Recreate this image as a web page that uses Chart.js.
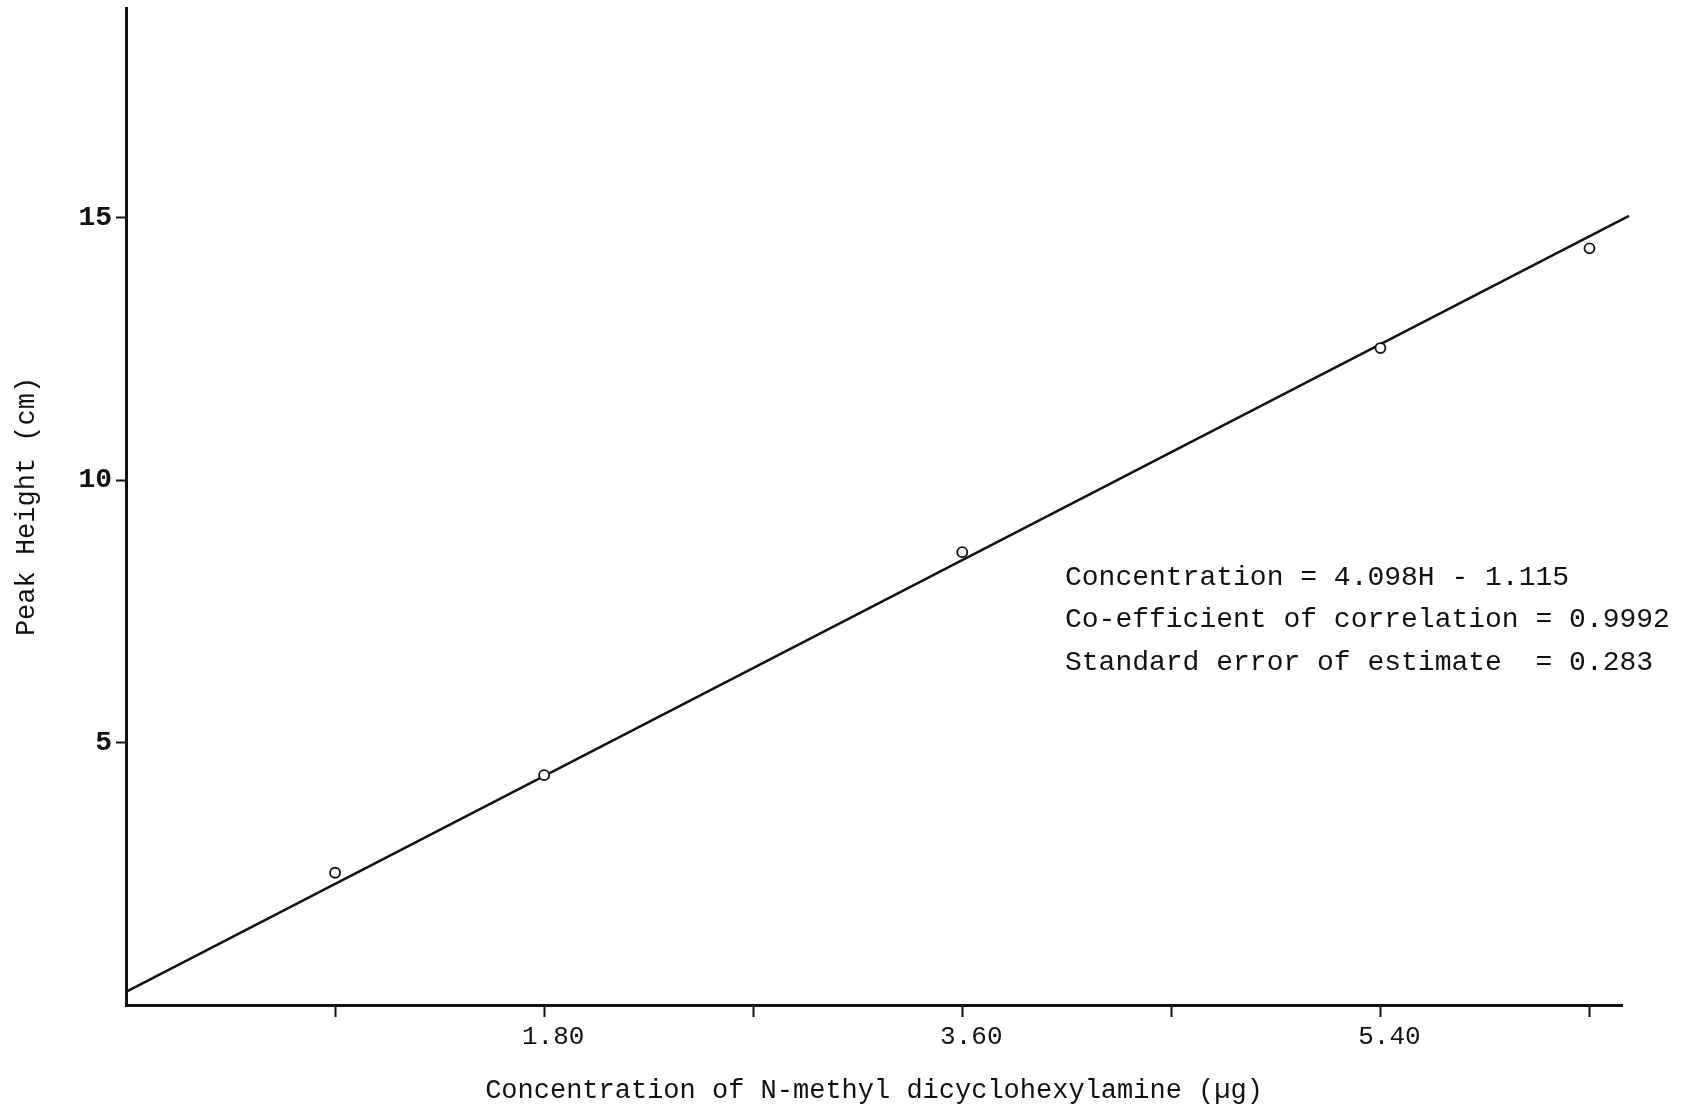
<!DOCTYPE html>
<html><head><meta charset="utf-8">
<script src="https://cdn.jsdelivr.net/npm/chart.js@4/dist/chart.umd.min.js"></script>
<style>html,body{margin:0;padding:0;background:#fff;}#wrap{width:1700px;height:1108px;}</style>
</head><body><div id="wrap"><canvas id="c" width="1700" height="1108"></canvas></div>
<script>
const concentrations = [0.9, 1.8, 3.6, 5.4, 6.3];
const peakHeights = [2.52, 4.38, 8.63, 12.52, 14.42];
const fitLineX = [0, 6.47];
const fitLineY = [0.25, 15.04];
const xTickValues = [0.9, 1.8, 2.7, 3.6, 4.5, 5.4, 6.3];
const xTickLabels = ['', '1.80', '', '3.60', '', '5.40', ''];
const yTickValues = [5, 10, 15];
const yTickLabels = ['5', '10', '15'];
const annotationLines = [
  'Concentration = 4.098H - 1.115',
  'Co-efficient of correlation = 0.9992',
  'Standard error of estimate  = 0.283'
];
const xTitle = 'Concentration of N-methyl dicyclohexylamine (\u00b5g)';
const yTitle = 'Peak Height (cm)';

const annotationPlugin = {
  id: 'annot',
  afterDraw(chart) {
    const ctx = chart.ctx;
    ctx.save();
    ctx.font = '28px "Liberation Mono"';
    ctx.fillStyle = '#111';
    ctx.textBaseline = 'middle';
    ctx.textAlign = 'left';
    const ys = [578, 620, 663];
    annotationLines.forEach((t, i) => ctx.fillText(t, 1065, ys[i]));
    ctx.restore();
  }
};

new Chart(document.getElementById('c'), {
  type: 'scatter',
  data: {
    datasets: [
      {
        label: 'Measured',
        data: concentrations.map((x, i) => ({x, y: peakHeights[i]})),
        pointStyle: 'circle',
        pointRadius: 5,
        pointBorderWidth: 1.8,
        pointBorderColor: '#111',
        pointBackgroundColor: '#fff',
        showLine: false
      },
      {
        label: 'Fit',
        data: fitLineX.map((x, i) => ({x, y: fitLineY[i]})),
        showLine: true,
        borderColor: '#111',
        borderWidth: 2.5,
        pointRadius: 0,
        clip: false
      }
    ]
  },
  options: {
    responsive: false,
    animation: false,
    layout: {padding: {top: 8, right: 78, left: 0, bottom: 0}},
    plugins: {legend: {display: false}, tooltip: {enabled: false}},
    scales: {
      x: {
        type: 'linear', min: 0, max: 6.44,
        afterFit(s) { s.height = 103; s.paddingLeft = 0; s.paddingRight = 0; },
        afterBuildTicks(s) { s.ticks = xTickValues.map(v => ({value: v})); },
        ticks: {
          autoSkip: false, maxRotation: 0, padding: 5, labelOffset: 9, color: '#111',
          font: {family: 'Liberation Mono', size: 26},
          callback(v) { const i = xTickValues.findIndex(t => Math.abs(t - v) < 1e-6); return i >= 0 ? xTickLabels[i] : ''; }
        },
        grid: {display: true, drawOnChartArea: false, drawTicks: true, tickLength: 12, tickWidth: 2, tickColor: '#111'},
        border: {display: true, color: '#111', width: 3},
        title: {display: true, text: xTitle, color: '#111', font: {family: 'Liberation Mono', size: 27}, padding: {top: 0, bottom: 1}}
      },
      y: {
        type: 'linear', min: 0, max: 19,
        afterFit(s) { s.width = 126; s.paddingTop = 0; s.paddingBottom = 0; },
        afterBuildTicks(s) { s.ticks = yTickValues.map(v => ({value: v})); },
        ticks: {
          autoSkip: false, padding: 4, color: '#111',
          font: {family: 'Liberation Mono', size: 28, weight: 'bold'},
          callback(v) { const i = yTickValues.indexOf(v); return i >= 0 ? yTickLabels[i] : ''; }
        },
        grid: {display: true, drawOnChartArea: false, drawTicks: true, tickLength: 10, tickWidth: 2, tickColor: '#111'},
        border: {display: true, color: '#111', width: 3},
        title: {display: true, text: yTitle, color: '#111', font: {family: 'Liberation Mono', size: 27}, padding: {top: 11, bottom: 0}}
      }
    }
  },
  plugins: [annotationPlugin]
});
</script>
</body></html>
